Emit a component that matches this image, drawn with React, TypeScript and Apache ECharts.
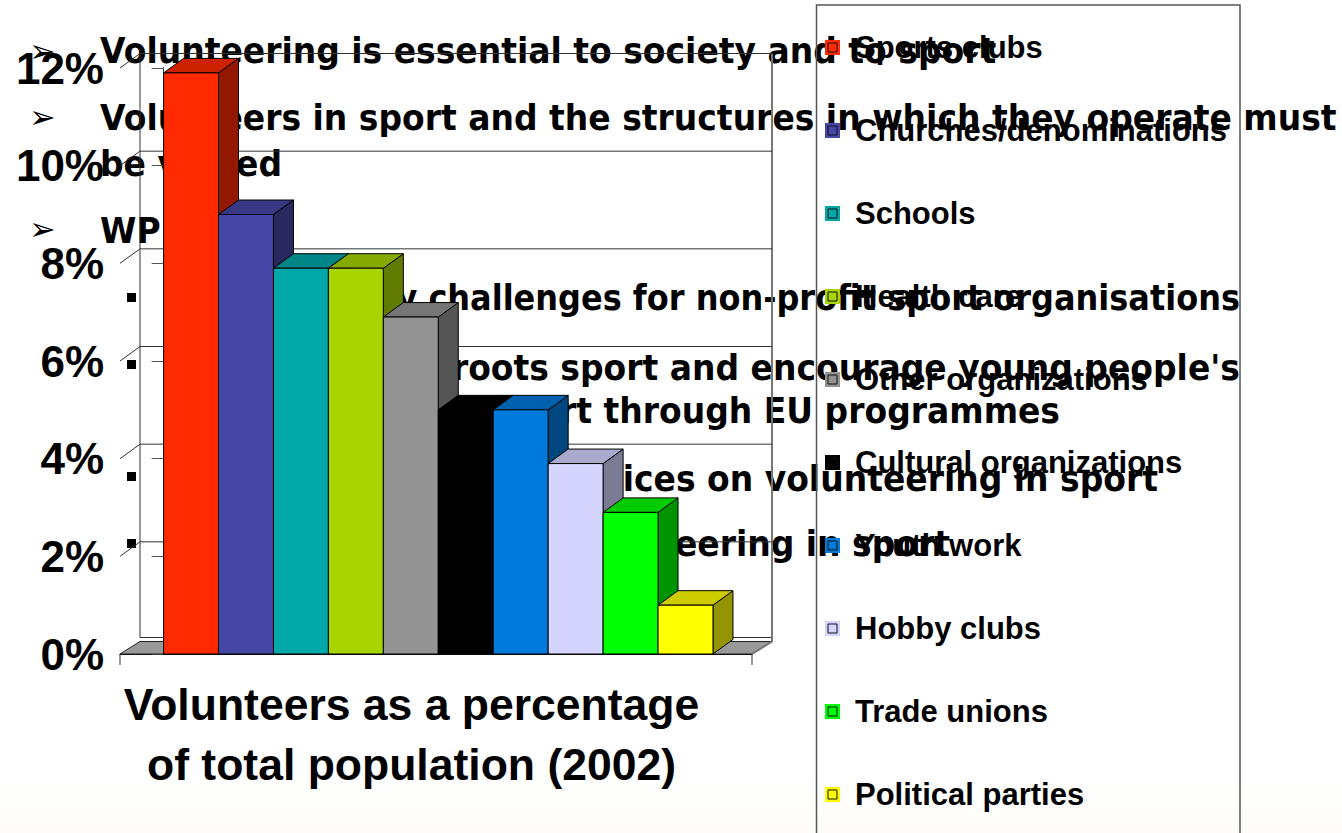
import React, { useEffect, useRef } from "react";
import * as echarts from "echarts";

const categories = ["Sports clubs", "Churches/denominations", "Schools", "Health care", "Other organizations", "Cultural organizations", "Youth work", "Hobby clubs", "Trade unions", "Political parties"];
const seriesValues = [11.9, 9, 7.9, 7.9, 6.9, 5, 5, 3.9, 2.9, 1];
const barColors = ["#FF2A00", "#4646A6", "#00A8A8", "#A8D400", "#939393", "#000000", "#007ADB", "#D4D4FF", "#00FF00", "#FFFF00"];
const yTicks = [0, 2, 4, 6, 8, 10, 12];
const chartTitle = "Volunteers as a percentage\nof total population (2002)";
const bodyFont = "DejaVu Sans";
const arrowLines = ["Volunteering is essential to society and to sport", "Volunteers in sport and the structures in which they operate must", "be valued", "WP"];
const arrowLineY = [50, 117, 163, 230];
const arrowMarks = [51, 117, 229];
const fragments = ["y challenges for non-profit sport organisations", "roots sport and encourage young people's", "rt through EU programmes", "tices on volunteering in sport", "teering in sport"];
const fragmentEnds = [1240, 1240, 1060, 1158, 950];
const fragmentY = [298, 367, 410, 478, 543];
const fragmentSizes = [32, 33, 33, 33, 33];
const squareMarks = [297, 364, 476, 543];

const X_MIN = -0.793;
const X_MAX = 10.71;
const DX = 20;
const DY = -14.5;

function shade(hex: string, k: number) {
  const n = parseInt(hex.slice(1), 16);
  const c = [(n >> 16) & 255, (n >> 8) & 255, n & 255].map((v) => Math.round(v * k));
  return `rgb(${c[0]},${c[1]},${c[2]})`;
}

function renderBar(color: string) {
  return (_: any, api: any) => {
    const x = api.value(0);
    const v = api.value(1);
    const a = api.coord([x, 0]);
    const b = api.coord([x + 1, v]);
    const line = { stroke: "#000", lineWidth: 1 };
    return {
      type: "group",
      children: [
        { type: "polygon", shape: { points: [[b[0], a[1]], [b[0] + DX, a[1] + DY], [b[0] + DX, b[1] + DY], [b[0], b[1]]] }, style: { fill: shade(color, 0.58), ...line } },
        { type: "polygon", shape: { points: [[a[0], b[1]], [a[0] + DX, b[1] + DY], [b[0] + DX, b[1] + DY], [b[0], b[1]]] }, style: { fill: shade(color, 0.8), ...line } },
        { type: "rect", shape: { x: a[0], y: b[1], width: b[0] - a[0], height: a[1] - b[1] }, style: { fill: color, ...line } },
      ],
    };
  };
}

function renderWall(_: any, api: any) {
  const t = api.value(1);
  const l = api.coord([X_MIN, t]);
  const r = api.coord([X_MAX, t]);
  const stroke = { stroke: "#333", lineWidth: 1, fill: "none" };
  const children: any[] = [];
  if (t === 0) {
    const top = api.coord([X_MIN, 12]);
    const topR = api.coord([X_MAX, 12]);
    children.push(
      { type: "polygon", shape: { points: [l, r, [r[0] + DX, r[1] + DY + 2], [l[0] + DX, l[1] + DY + 2]] }, style: { fill: "#999999", stroke: "#222", lineWidth: 1 } },
      { type: "polyline", shape: { points: [[l[0] + DX, top[1] + DY], [l[0] + DX, l[1] + DY - 2], [r[0] + DX, r[1] + DY - 2]] }, style: stroke },
      { type: "polyline", shape: { points: [[topR[0] + DX, top[1] + DY], [topR[0] + DX, r[1] + DY + 2], [r[0], r[1]]] }, style: { ...stroke, stroke: "#777", lineWidth: 2 } },
      { type: "line", shape: { x1: l[0], y1: l[1], x2: l[0], y2: l[1] + 11 }, style: stroke },
      { type: "line", shape: { x1: r[0], y1: r[1], x2: r[0], y2: r[1] + 11 }, style: stroke },
    );
  } else {
    children.push({ type: "polyline", shape: { points: [l, [l[0] + DX, l[1] + DY], [r[0] + DX, r[1] + DY]] }, style: stroke });
  }
  return { type: "group", children };
}

const textBase = { fill: "#000", fontFamily: bodyFont, fontWeight: "bold" };

export default function App() {
  const ref = useRef<HTMLDivElement>(null);
  useEffect(() => {
    document.body.style.margin = "0";
    const chart = echarts.init(ref.current!, undefined, { renderer: "svg" });
    const graphics: any[] = [];
    graphics.push({
      type: "rect", z: -2, shape: { x: 0, y: 775, width: 1342, height: 58 },
      style: { fill: new echarts.graphic.LinearGradient(0, 0, 0, 1, [{ offset: 0, color: "#ffffff" }, { offset: 0.4, color: "#fefefc" }, { offset: 1, color: "#fefcfa" }]) },
    });
    arrowLines.forEach((t, i) => graphics.push({ type: "text", z: -1, x: 100, y: arrowLineY[i], scaleY: 1.1, style: { ...textBase, text: t, fontSize: 33, verticalAlign: "middle" } }));
    fragments.forEach((t, i) => graphics.push({ type: "text", z: -1, x: fragmentEnds[i], y: fragmentY[i], scaleY: 1.1, style: { ...textBase, text: t, fontSize: fragmentSizes[i], align: "right", verticalAlign: "middle" } }));
    arrowMarks.forEach((y) => graphics.push({ type: "text", z: -1, x: 29, y, style: { fill: "#000", fontFamily: bodyFont, text: "➢", fontSize: 32, verticalAlign: "middle" } }));
    squareMarks.forEach((y) => graphics.push({ type: "rect", z: -1, shape: { x: 127, y: y - 4, width: 9, height: 9 }, style: { fill: "#000" } }));
    graphics.push({ type: "rect", z: 50, shape: { x: 816.5, y: 5, width: 423.5, height: 900 }, style: { fill: "none", stroke: "#555", lineWidth: 1.5 } });
    categories.forEach((_, i) => graphics.push({ type: "rect", z: 100, shape: { x: 828, y: 43 + i * 83, width: 9, height: 9 }, style: { fill: "none", stroke: "#111", lineWidth: 1 } }));

    chart.setOption({
      animation: false,
      backgroundColor: "#fff",
      title: { text: chartTitle, left: 406.5, top: 669, textAlign: "center", textStyle: { fontFamily: "Liberation Sans", fontSize: 44.5, fontWeight: "bold", color: "#000", lineHeight: 60 } },
      grid: { left: 120, right: 590, top: 68, bottom: 179 },
      xAxis: { type: "value", min: X_MIN, max: X_MAX, axisLine: { show: true, onZero: false, lineStyle: { color: "#000" } }, axisTick: { show: false }, axisLabel: { show: false }, splitLine: { show: false } },
      yAxis: {
        type: "value", min: 0, max: 12, interval: 2,
        axisLine: { show: true, lineStyle: { color: "#333" } },
        axisTick: { show: true, length: 12, lineStyle: { color: "#555" } },
        axisLabel: { formatter: "{value}%", margin: 16, fontFamily: "Liberation Sans", fontSize: 44, fontWeight: "bold", color: "#000" },
        splitLine: { show: false },
      },
      legend: {
        orient: "vertical", left: 825, top: 32,
        padding: 0,
        itemWidth: 15, itemHeight: 15, itemGap: 52, icon: "rect",
        data: categories,
        selectedMode: false,
        textStyle: { fontFamily: "Liberation Sans", fontSize: 31, fontWeight: "bold", color: "#000", padding: [0, 0, 0, 10] },
      },
      graphic: { elements: graphics },
      series: [
        { type: "custom", name: "walls", silent: true, z: 1, renderItem: renderWall, encode: { x: 0, y: 1 }, data: yTicks.map((t) => [X_MIN, t]), clip: false },
        ...categories.map((name, i) => ({
          type: "custom", name, z: 2 + i, renderItem: renderBar(barColors[i]),
          encode: { x: 0, y: 1 }, itemStyle: { color: barColors[i] }, data: [[i, seriesValues[i]]], clip: false,
        })),
      ],
    });
    return () => chart.dispose();
  }, []);
  return <div ref={ref} style={{ position: "absolute", left: 0, top: 0, width: 1342, height: 833, overflow: "hidden" }} />;
}
